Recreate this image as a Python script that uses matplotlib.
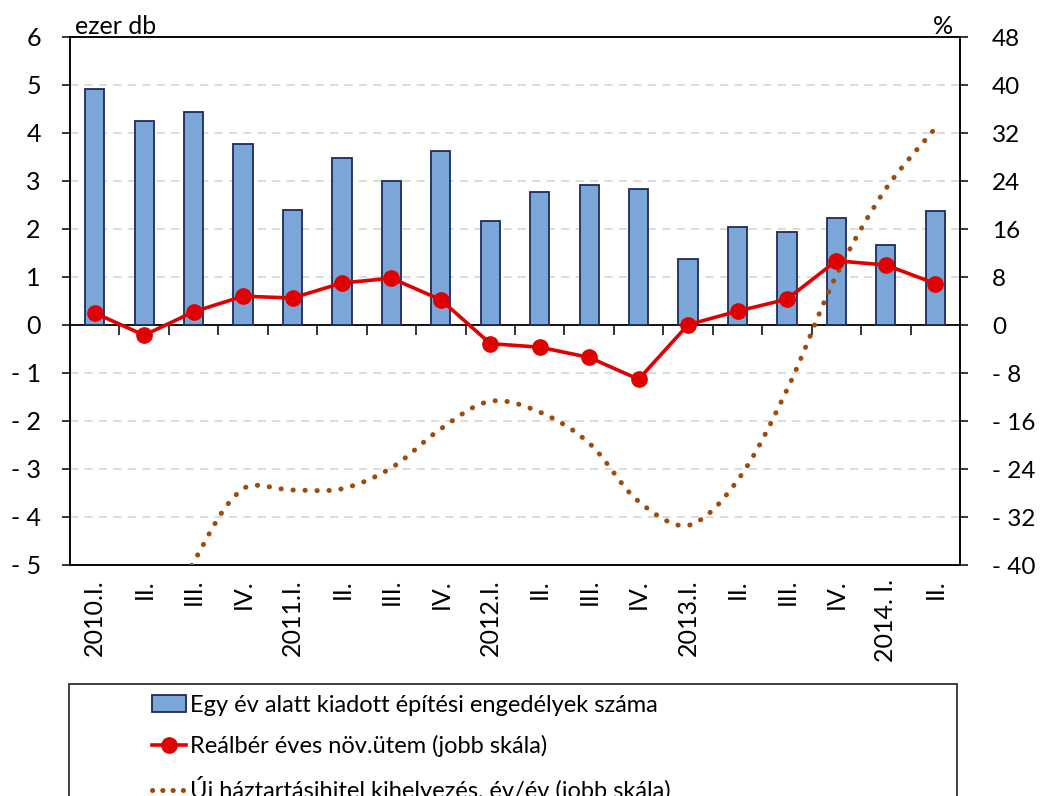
import matplotlib
matplotlib.use("Agg")
import matplotlib.pyplot as plt
from matplotlib.path import Path
from matplotlib.patches import PathPatch, Patch, Rectangle
from matplotlib.lines import Line2D

plt.rcParams['font.family'] = ['Lato', 'DejaVu Sans']

# negyedévek
categories = ["2010.I.", "II.", "III.", "IV.",
              "2011.I.", "II.", "III.", "IV.",
              "2012.I.", "II.", "III.", "IV.",
              "2013.I.", "II.", "III.", "IV.",
              "2014. I.", "II."]

# építési engedélyek (ezer db)
permits = [4.92, 4.25, 4.44, 3.77, 2.40, 3.48, 3.00, 3.63, 2.17,
           2.77, 2.92, 2.83, 1.375, 2.04, 1.94, 2.23, 1.67, 2.375]

# reálbér éves növekedés (%)
real_wage = [2.0, -1.7, 2.2, 4.8, 4.5, 7.0, 7.8, 4.2, -3.1,
             -3.7, -5.4, -9.05, 0.05, 2.3, 4.3, 10.7, 10.0, 6.9]

# új háztartási hitel kihelyezés, év/év (%)
new_loans = [-70.0, -55.0, -39.5, -27.3, -27.5, -27.3, -23.8, -17.3, -12.7,
             -14.5, -19.7, -29.4, -33.4, -25.9, -10.8, 8.3, 22.7, 32.8]

left_ticks = list(range(-5, 7))
right_ticks = list(range(-40, 49, 8))

bar_color = '#7BA6D8'
bar_edge = '#1F2A5C'
red = '#E00000'
brown = '#9E4B0E'


def fmt(v):
    return "- %d" % abs(v) if v < 0 else "%d" % v


fig = plt.figure(figsize=(10.4, 7.96), dpi=100)
ax = fig.add_axes([70 / 1040, 1 - 565 / 796, 890 / 1040, 528 / 796])
ax2 = ax.twinx()

x = list(range(len(categories)))

# oszlopok
ax.bar(x, permits, width=0.39, color=bar_color, edgecolor=bar_edge,
       linewidth=1.3, zorder=3)
ax.set_xlim(-0.5, len(categories) - 0.5)
ax.set_ylim(-5, 6)
ax.set_yticks(left_ticks)
ax.set_yticklabels([fmt(v) for v in left_ticks])
for v in left_ticks:
    if v not in (-5, 0, 6):
        ax.axhline(v, color='#D9D9D9', lw=1.3, ls=(0, (4.5, 3.5)), zorder=0)

ax.set_xticks(x)
ax.set_xticklabels(categories, rotation=90, va='top', ha='center')
ax.tick_params(axis='x', length=0, pad=10, labelsize=18)
ax.tick_params(axis='y', length=6, width=1.1, direction='out', labelsize=18, pad=15)

# nulla vonal, osztásokkal a negyedévek határán
zero_ax = ax.secondary_xaxis(5 / 11)
zero_ax.set_xticks([i + 0.5 for i in range(len(categories) - 1)])
zero_ax.set_xticklabels([])
zero_ax.tick_params(axis='x', length=7, width=1.1, direction='out')
zero_ax.spines['bottom'].set_linewidth(1.3)

for sp in ax.spines.values():
    sp.set_linewidth(1.1)
for sp in ax2.spines.values():
    sp.set_linewidth(1.1)

# jobb skála
ax2.set_ylim(-40, 48)
ax2.set_yticks(right_ticks)
ax2.set_yticklabels([fmt(v) for v in right_ticks])
ax2.tick_params(axis='y', length=6, width=1.1, direction='out', labelsize=17.5, pad=17)

ax2.plot(x, real_wage, color=red, lw=2.6, marker='o', markersize=11,
         markeredgecolor=red, zorder=5)

# simított pontozott vonal (Bezier, képpont-arányos fogantyúkkal)
sx, sy = 49.44, 6.0
pts = [(xi * sx, yi * sy) for xi, yi in zip(x, new_loans)]
n = len(pts)


def dist(a, b):
    return ((a[0] - b[0]) ** 2 + (a[1] - b[1]) ** 2) ** 0.5


verts = [pts[0]]
codes = [Path.MOVETO]
for i in range(n - 1):
    p0 = pts[i - 1] if i > 0 else pts[i]
    p1 = pts[i]
    p2 = pts[i + 1]
    p3 = pts[i + 2] if i + 2 < n else pts[i + 1]
    d01, d12, d23 = dist(p0, p1), dist(p1, p2), dist(p2, p3)
    f1 = d12 / (d01 + d12) * 2 / 6 if d01 > 0 else 1 / 6
    f2 = d12 / (d12 + d23) * 2 / 6 if d23 > 0 else 1 / 6
    c1 = (p1[0] + (p2[0] - p0[0]) * f1, p1[1] + (p2[1] - p0[1]) * f1)
    c2 = (p2[0] - (p3[0] - p1[0]) * f2, p2[1] - (p3[1] - p1[1]) * f2)
    verts += [c1, c2, p2]
    codes += [Path.CURVE4] * 3
verts = [(vx / sx, vy / sy) for vx, vy in verts]
curve = PathPatch(Path(verts, codes), fill=False, edgecolor=brown, lw=3.6,
                  ls=(0, (0.05, 2.35)), capstyle='round', zorder=4)
ax2.add_patch(curve)

fig.text(75 / 1040, 1 - 34 / 796, "ezer db", fontsize=18, ha='left', va='baseline')
fig.text(953 / 1040, 1 - 34 / 796, "%", fontsize=18, ha='right', va='baseline')

# jelmagyarázat
fig.patches.append(Rectangle((69 / 1040, -0.05), 888 / 1040, 1 - 684 / 796 + 0.05,
                             transform=fig.transFigure, fill=False,
                             edgecolor='#333333', lw=1.3))
handles = [
    Patch(facecolor=bar_color, edgecolor=bar_edge, linewidth=1.3),
    Line2D([], [], color=red, lw=2.6, marker='o', markersize=11),
    Line2D([], [], color=brown, lw=3.6, ls=(0, (0.05, 2.0)), dash_capstyle='round'),
]
labels = ["Egy év alatt kiadott építési engedélyek száma",
          "Reálbér éves növ.ütem (jobb skála)",
          "Új háztartásihitel kihelyezés, év/év (jobb skála)"]
fig.legend(handles, labels, loc='upper left',
           bbox_to_anchor=(152 / 1040, 1 - 695 / 796), frameon=False,
           prop={'size': 17},
           handlelength=1.45, handleheight=0.7, handletextpad=0.15,
           labelspacing=0.8, borderpad=0, borderaxespad=0)

fig.savefig("out.png", dpi=100)
